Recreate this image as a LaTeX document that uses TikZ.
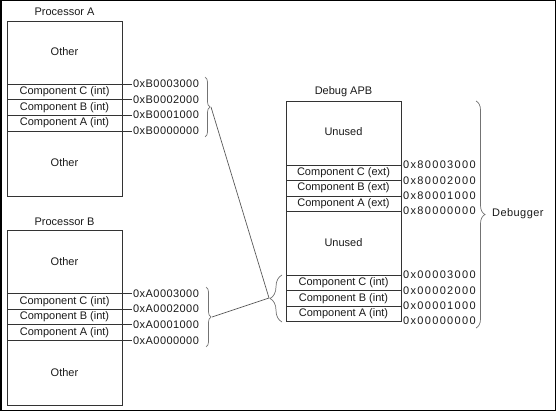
\documentclass[tikz,border=0pt]{standalone}
\usepackage{fontspec}
\setmainfont{Liberation Sans}
\newfontfamily\hexa[LetterSpace=4]{Liberation Sans}
\newfontfamily\hexd[LetterSpace=12]{Liberation Sans}
\newfontfamily\widefont[LetterSpace=4]{Liberation Sans}
\usetikzlibrary{decorations.pathreplacing}
\begin{document}
\begin{tikzpicture}[x=1pt,y=-1pt,
  box/.style={draw=black!80, line width=0.8pt, inner sep=0pt, anchor=north west},
  txt/.style={font=\fontsize{11}{12}\selectfont, text=black!90, inner sep=0pt},
  hexp/.style={font=\hexa\fontsize{11}{12}\selectfont, anchor=west, inner sep=1pt, text=black!90},
  hexdbg/.style={font=\hexd\fontsize{11}{12}\selectfont, anchor=west, inner sep=1pt, text=black!90},
  divline/.style={draw=black!80, line width=0.8pt},
  brc/.style={draw=black!55, line width=0.7pt, decorate, decoration={brace, amplitude=#1}},
  link/.style={draw=black!65, line width=0.7pt}]
\useasboundingbox (0,0) rectangle (556,411);
\draw[line width=1.5pt] (0.75,0.75) rectangle (555.25,410.25);

% Processor A
\node[box, minimum width=115pt, minimum height=175pt] (pa) at (7,21) {};
\node[txt] (pat) at (64.5,12) {Processor A};
\node[txt] (pao1) at (64.5,52) {Other};
\node[txt] (pac) at (64.5,92) {Component C (int)};
\node[txt] (pab) at (64.5,107.5) {Component B (int)};
\node[txt] (paa) at (64.5,123) {Component A (int)};
\node[txt] (pao2) at (64.5,163) {Other};
\node[hexp] (ha3) at (132,84) {0xB0003000};
\node[hexp] (ha2) at (132,99.5) {0xB0002000};
\node[hexp] (ha1) at (132,115) {0xB0001000};
\node[hexp] (ha0) at (132,131) {0xB0000000};
\foreach \n in {ha3,ha2,ha1,ha0} \draw[divline] (pa.west |- \n.west) -- (\n.west);
\coordinate (ba1) at (205,77);
\coordinate (ba2) at (205,137);
\draw[brc=5pt] (ba1) -- (ba2);
\coordinate (ta) at (211,107);

% Processor B
\node[box, minimum width=115pt, minimum height=175pt] (pb) at (7,230) {};
\node[txt] (pbt) at (64.5,222) {Processor B};
\node[txt] (pbo1) at (64.5,262) {Other};
\node[txt] (pbc) at (64.5,301.5) {Component C (int)};
\node[txt] (pbb) at (64.5,317) {Component B (int)};
\node[txt] (pba) at (64.5,332.5) {Component A (int)};
\node[txt] (pbo2) at (64.5,373) {Other};
\node[hexp] (hb3) at (132,293.5) {0xA0003000};
\node[hexp] (hb2) at (132,309) {0xA0002000};
\node[hexp] (hb1) at (132,324.5) {0xA0001000};
\node[hexp] (hb0) at (132,340.5) {0xA0000000};
\foreach \n in {hb3,hb2,hb1,hb0} \draw[divline] (pb.west |- \n.west) -- (\n.west);
\coordinate (bb1) at (206,287);
\coordinate (bb2) at (206,347);
\draw[brc=5pt] (bb1) -- (bb2);
\coordinate (tb) at (212,317);

% Debug APB
\node[box, minimum width=115pt, minimum height=220pt] (db) at (286,101) {};
\node[txt] (dbt) at (343.5,92) {Debug APB};
\node[txt] (du1) at (343.5,132) {Unused};
\node[txt] (dce) at (343.5,172.5) {Component C (ext)};
\node[txt] (dbe) at (343.5,188) {Component B (ext)};
\node[txt] (dae) at (343.5,203.5) {Component A (ext)};
\node[txt] (du2) at (343.5,243) {Unused};
\node[txt] (dci) at (343.5,283) {Component C (int)};
\node[txt] (dbi) at (343.5,298.5) {Component B (int)};
\node[txt] (dai) at (343.5,313.5) {Component A (int)};
\node[hexdbg] (h83) at (402,165) {0x80003000};
\node[hexdbg] (h82) at (402,180.5) {0x80002000};
\node[hexdbg] (h81) at (402,196) {0x80001000};
\node[hexdbg] (h80) at (402,211) {0x80000000};
\node[hexdbg] (h03) at (402,275) {0x00003000};
\node[hexdbg] (h02) at (402,290.5) {0x00002000};
\node[hexdbg] (h01) at (402,306) {0x00001000};
\node[hexdbg] (h00) at (402,321) {0x00000000};
\foreach \n in {h83,h82,h81,h80,h03,h02,h01,h00} \draw[divline] (db.west |- \n.west) -- (\n.west);
\coordinate (bd1) at (476,101);
\coordinate (bd2) at (476,328);
\draw[brc=9pt] (bd1) -- (bd2);
\node[txt, anchor=west, font=\widefont\fontsize{11}{12}\selectfont] (dbg) at (492,214) {Debugger};
\coordinate (bl1) at (282,322);
\coordinate (bl2) at (282,275);
\draw[brc=12pt] (bl1) -- (bl2);
\coordinate (tl) at (269,298);

% connectors
\draw[link] (ta) -- (tl);
\draw[link] (tb) -- (tl);
\end{tikzpicture}
\end{document}
